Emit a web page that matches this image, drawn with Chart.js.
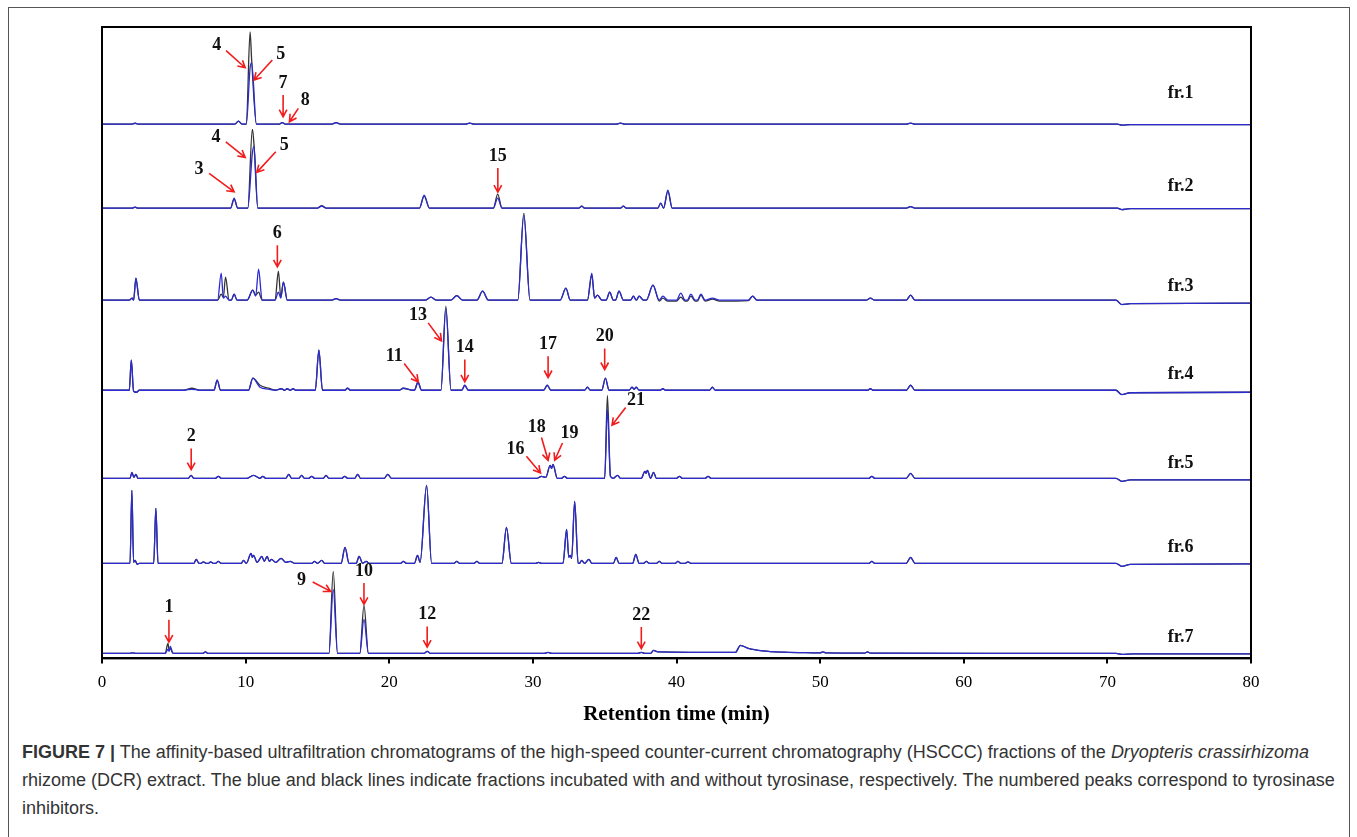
<!DOCTYPE html>
<html>
<head>
<meta charset="utf-8">
<script src="https://cdn.jsdelivr.net/npm/chart.js@4.4.0/dist/chart.umd.min.js"></script>
<style>
  html, body { margin: 0; padding: 0; background: #fff; overflow: hidden; }
  body { width: 1357px; height: 837px; position: relative; }
  #frame { position: absolute; left: 8px; top: 7px; width: 1342px; height: 900px; border: 1.5px solid #555; box-sizing: border-box; }
  #wrap { position: absolute; left: 0; top: 0; width: 1357px; height: 735px; }
  #caption { position: absolute; left: 22px; top: 738px; font-family: "Liberation Sans", Arial, sans-serif; font-size: 18px; line-height: 28px; color: #333; white-space: nowrap; }
</style>
</head>
<body>
<div id="frame"></div>
<div id="wrap"><canvas id="chromatograms"></canvas></div>
<div id="caption"><b>FIGURE 7 |</b> The affinity-based ultrafiltration chromatograms of the high-speed counter-current chromatography (HSCCC) fractions of the <i>Dryopteris crassirhizoma</i><br>rhizome (DCR) extract. The blue and black lines indicate fractions incubated with and without tyrosinase, respectively. The numbered peaks correspond to tyrosinase<br>inhibitors.</div>
<script>
// rows: [retention time (min), blue = with tyrosinase, black = without tyrosinase]
var fr1 = [
  [0,0,0],
  [2.1,0,0],[2.3,0.8,0.8],[2.5,0,0],
  [9.25,0,0],[9.5,3,3],[9.75,0,0],
  [10.05,0,0],[10.31,56,92],[10.42,61,64],[10.75,0,0],
  [12.35,0,0],[12.55,1.5,1.5],[12.75,0,0],
  [16.0,0,0],[16.3,1.5,1.5],[16.6,0,0],
  [25.3,0,0],[25.6,1,1],[25.9,0,0],
  [35.8,0,0],[36.1,1,1],[36.4,0,0],
  [56.0,0,0],[56.3,1,1],[56.6,0,0],
  [70.7,0,0],[71.0,-1,-1],[71.6,-0.5,-0.5],[80,-0.5,-0.5]
];
var fr2 = [
  [0,0,0],
  [2.1,0,0],[2.3,1,1],[2.5,0,0],
  [8.95,0,0],[9.2,10,9],[9.45,0,0],
  [10.15,0,0],[10.47,55,79],[10.58,62,64],[10.85,0,0],
  [15.0,0,0],[15.3,2,2.5],[15.6,0,0],
  [22.1,0,0],[22.43,13,12],[22.8,0,0],
  [27.25,0,0],[27.55,10,14],[27.85,0,0],
  [33.2,0,0],[33.4,2,2],[33.6,0,0],
  [36.1,0,0],[36.3,2,2],[36.5,0,0],
  [38.7,0,0],[38.9,5,5],[39.1,0,0],[39.4,18,17],[39.7,0,0],
  [56.0,0,0],[56.3,1.5,1.5],[56.6,0,0],
  [70.7,0,0],[71.0,-1.5,-1.5],[71.6,-0.5,-0.5],[80,-0.5,-0.5]
];
var fr3 = [
  [0,0,0],
  [1.9,0,0],[2.1,2,2],[2.2,0,0],[2.36,22,22],[2.6,0,0],
  [8.05,0,0],[8.3,27,6],[8.45,2,3],[8.6,4,23],[8.85,0,0],
  [9.0,0,0],[9.2,6,6],[9.4,0,0],
  [10.1,0,0],[10.5,10,10],[10.7,4,5],[10.9,31,8],[11.15,0,0],
  [12.05,0,0],[12.28,8,29],[12.45,2,3],[12.63,18,18],[12.9,0,0],
  [16.0,0,0],[16.3,1.5,1.5],[16.6,0,0],
  [22.5,0,0],[22.9,3,3],[23.3,0,0],
  [24.3,0,0],[24.7,4.5,4.5],[25.1,0,0],
  [26.1,0,0],[26.5,9,9],[26.9,0,0],
  [28.95,0,0],[29.37,85,87],[29.8,0,0],
  [31.9,0,0],[32.3,12,12],[32.6,0,0],
  [33.8,0,0],[34.1,27,25],[34.3,2,2],[34.5,5,5],[34.8,0,0],
  [35.1,0,0],[35.35,8,8],[35.6,0,0],
  [35.75,0,0],[36.0,9,9],[36.3,0,0],
  [36.8,0,0],[37.0,4,4],[37.2,0,0],[37.4,4,4],[37.7,0,0],
  [37.9,0,0],[38.36,15,15],[38.8,0,-1],
  [39.05,4,2],[39.4,0,-1],
  [40.0,0,-1],[40.3,7,3],[40.6,0,-1],
  [40.75,0,-1],[41.0,6,4],[41.3,0,-1],
  [41.45,0,-1],[41.7,6,5],[42.0,0,-1],
  [42.5,2,1],[43.0,0,-1],
  [45.0,0,-0.5],[45.3,4,4],[45.6,0,0],
  [53.2,0,0],[53.5,2,2],[53.8,0,0],
  [56.0,0,0],[56.3,5,5],[56.6,0,0],
  [70.6,0,0],[71.0,-4.5,-4.5],[71.6,-3.5,-3.5],[80,-3,-3]
];
var fr4 = [
  [0,0,0],
  [1.9,0,0],[2.04,30,30],[2.2,-1,-1],[2.4,-2,-2],[2.6,0,0],
  [5.7,0,0],[6.26,1,2],[6.8,0,0],
  [7.8,0,0],[8.02,10,10],[8.25,0,0],
  [10.2,0,0],[10.5,12,12],[11.0,3,5],[11.6,1,2],[12.1,0,0],
  [12.5,1.5,1.5],[12.7,0,0],[12.9,1.5,1.5],[13.1,0,0],[13.3,1.5,1.5],[13.5,0,0],
  [14.85,0,0],[15.1,40,40],[15.35,0,0],
  [16.9,0,0],[17.1,2,2],[17.3,0,0],
  [20.7,0,0],[20.97,2,2],[21.6,0,0],
  [21.75,0,0],[22.0,8,8],[22.25,0,0],
  [23.6,0,0],[23.94,82,84],[24.3,0,0],
  [25.05,0,0],[25.26,5,5],[25.5,0,0],
  [30.75,0,0],[31.0,5,5],[31.25,0,0],
  [33.6,0,0],[33.8,3,3],[34.0,0,0],
  [34.8,0,0],[35.05,12,12],[35.3,0,0],
  [36.7,0,0],[36.9,3,3],[37.05,1,1],[37.2,3,3],[37.4,0,0],
  [38.85,0,0],[39.05,1.5,1.5],[39.25,0,0],
  [42.3,0,0],[42.5,3,3],[42.7,0,0],
  [53.3,0,0],[53.5,1.5,1.5],[53.7,0,0],
  [56.0,0,0],[56.3,5,5],[56.6,0,0],
  [70.6,0,0],[71.0,-4.5,-4.5],[71.6,-2.5,-2.5],[80,-2,-2]
];
var fr5 = [
  [0,0,0],
  [1.95,0,0],[2.08,6,6],[2.22,1,1],[2.36,4,4],[2.5,0,0],
  [6.0,0,0],[6.2,3,3],[6.4,0,0],
  [7.9,0,0],[8.1,2,2],[8.3,0,0],
  [10.1,0,0],[10.55,3,3],[11.0,0,0],[11.2,2,2],[11.4,0,0],
  [12.8,0,0],[13.0,4,4],[13.2,0,0],
  [13.7,0,0],[13.9,3,3],[14.1,0,0],
  [14.4,0,0],[14.6,2,2],[14.8,0,0],
  [15.4,0,0],[15.6,3,3],[15.8,0,0],
  [16.7,0,0],[16.9,2,2],[17.1,0,0],
  [17.6,0,0],[17.8,4,4],[18.0,0,0],
  [19.65,0,0],[19.9,4,4],[20.15,0,0],
  [30.3,0,0],[30.6,2,2],[30.9,1,1],[31.2,13,13],[31.3,10,10],[31.4,14,14],[31.7,0,0],
  [32.0,0,0],[32.2,2,2],[32.4,0,0],
  [35.0,0,0],[35.19,69,83],[35.4,2,2],[35.6,0,0],[35.9,3,3],[36.1,0,0],
  [37.55,0,0],[37.8,7,7],[37.88,5,5],[37.97,8,8],[38.2,0,0],[38.4,6,6],[38.6,0,0],
  [40.0,0,0],[40.2,2,2],[40.4,0,0],
  [42.0,0,0],[42.2,2,2],[42.4,0,0],
  [53.4,0,0],[53.6,2,2],[53.8,0,0],
  [56.0,0,0],[56.3,5,5],[56.6,0,0],
  [70.6,0,0],[71.0,-3,-3],[71.6,-1.5,-1.5],[80,-1.5,-1.5]
];
var fr6 = [
  [0,0,0],
  [1.95,0,0],[2.08,73,73],[2.2,1,1],[2.3,3,3],[2.45,-1,-1],[2.6,0,0],
  [3.6,0,0],[3.75,55,55],[3.9,0,0],
  [6.4,0,0],[6.56,4,4],[6.75,0,0],
  [6.9,0,0],[7.05,1.5,1.5],[7.25,0,0],
  [7.4,0,0],[7.56,1.5,1.5],[7.75,0,0],
  [7.9,0,0],[8.1,2,2],[8.3,0,0],
  [9.7,0,0],[9.85,3,3],[10.05,0,0],[10.38,10,10],[10.47,6,6],[10.55,8,8],[10.8,1,1],[11.13,7,7],[11.3,2,2],[11.5,7,7],[11.65,2,2],[11.8,4,4],[12.1,1,1],[12.47,5,5],[12.8,1,1],[13.1,2,2],[13.4,0,0],
  [14.6,0,0],[14.8,2,2],[15.0,0,0],[15.3,3,3],[15.5,0,0],
  [16.65,0,0],[16.92,16,16],[17.2,0,0],
  [17.7,0,0],[17.9,7,7],[18.15,0,0],[18.4,2,2],[18.6,0,0],
  [20.8,0,0],[20.97,2,2],[21.2,0,0],
  [21.75,0,0],[21.97,8,8],[22.15,1,1],[22.6,78,78],[22.95,0,0],
  [24.5,0,0],[24.7,2,2],[24.9,0,0],
  [25.9,0,0],[26.1,2,2],[26.3,0,0],
  [27.85,0,0],[28.16,36,36],[28.5,0,0],
  [30.2,0,0],[30.4,1,1],[30.6,0,0],
  [32.1,0,0],[32.35,34,34],[32.5,6,6],[32.6,8,8],[32.7,5,5],[32.91,62,62],[33.15,0,0],
  [33.25,0,0],[33.4,3,3],[33.6,0,0],[33.9,4,4],[34.1,0,0],
  [35.6,0,0],[35.8,6,6],[36.0,0,0],
  [36.95,0,0],[37.16,9,9],[37.4,0,0],
  [37.7,0,0],[37.9,2,2],[38.1,0,0],
  [38.6,0,0],[38.8,2,2],[39.0,0,0],
  [39.9,0,0],[40.1,2,2],[40.3,0,0],
  [40.6,0,0],[40.8,1.5,1.5],[41.0,0,0],
  [53.4,0,0],[53.6,2,2],[53.8,0,0],
  [56.0,0,0],[56.3,6,6],[56.6,0,0],
  [70.6,0,0],[71.0,-3,-3],[71.6,-1,-1],[80,-0.5,-0.5]
];
var fr7 = [
  [0,0,0],
  [1.9,0,0],[2.1,0.5,0.5],[2.4,0,0],
  [4.4,0,0],[4.59,4,10],[4.68,2,3],[4.75,7,5],[4.95,0,0],
  [7.0,0,0],[7.2,1.5,1.5],[7.4,0,0],
  [15.8,0,0],[16.1,64,82],[16.4,0,0],
  [17.95,0,0],[18.24,34,48],[18.55,0,0],
  [22.4,0,0],[22.64,2,2],[22.9,0,0],
  [30.8,0,0],[31.06,1,1],[31.3,0,0],
  [37.3,0,0],[37.55,1,1],[37.8,0,0],
  [38.2,0,0],[38.4,3,3],[38.7,1.5,1.5],[44.1,1,1],[44.45,8,8],[45.0,5,5],[46.0,2.5,2.5],[47.5,1.2,1.2],[49.5,0.6,0.6],
  [50.0,0.5,0.5],[50.2,1.5,1.5],[50.4,0.5,0.5],
  [53.1,0.3,0.3],[53.3,1.5,1.5],[53.5,0.2,0.2],
  [70.6,0,0],[71.0,-1,-1],[71.8,-0.5,-0.5],[80,-0.5,-0.5]
];

var fractions = [fr1, fr2, fr3, fr4, fr5, fr6, fr7];
var fractionNames = ["fr.1", "fr.2", "fr.3", "fr.4", "fr.5", "fr.6", "fr.7"];
var timeTicks = [0, 10, 20, 30, 40, 50, 60, 70, 80];

// numbered peaks: fraction index, arrow tail and tip as [time, intensity]
var peakNumbers = ["4","5","7","8","4","5","3","15","6","11","13","14","17","20","21","18","19","16","2","1","9","10","12","22"];
var peakFraction = [0,0,0,0,1,1,1,1,2,3,3,3,3,3,4,4,4,4,4,6,6,6,6,6];
var arrowFrom = [[8.64,73.3],[11.86,64],[12.61,29],[13.67,15.7],[8.62,66.3],[12.10,56.3],[7.46,34.7],[27.56,40],[12.21,55],[21.04,26.7],[22.71,67.3],[25.26,30.7],[31.06,34],[35.0,41.7],[36.46,70.7],[30.6,40.7],[32.06,35.3],[29.55,22],[6.21,29.7],[4.66,33.7],[14.67,71.3],[18.24,70.3],[22.64,27],[37.55,26.3]];
var arrowTo = [[9.97,56.3],[10.59,44],[12.61,7.3],[13.05,2.3],[9.97,50.7],[10.78,35.7],[9.20,16.3],[27.56,16],[12.21,33.3],[22.02,8.3],[23.64,49.3],[25.26,8.3],[31.06,12.7],[35.0,20.7],[35.51,53],[31.06,18],[31.52,18],[30.53,5.3],[6.21,8.7],[4.66,11.3],[15.92,62],[18.24,49],[22.64,6.3],[37.55,4.7]];

var labelTime = 74.2;
var labelLift = [31, 22, 14, 16, 15, 16, 16];

// pane heights (px) of the stacked y axes, top to bottom
var paneHeight = [102, 84, 92, 90, 88, 85, 90];

var serif = '"Liberation Serif", "Times New Roman", serif';
var blue = "#2b2bd0";
var black = "#333333";

Chart.defaults.font.family = serif;
Chart.defaults.font.size = 17;
Chart.defaults.color = "#000";

var datasets = [];
var scales = {
    x: {
        type: "linear",
        min: 0,
        max: 80,
        afterBuildTicks: function (axis) {
            axis.ticks = timeTicks.map(function (v) { return { value: v }; });
        },
        ticks: { color: "#000", font: { family: serif, size: 17 }, padding: 9, maxRotation: 0 },
        grid: { display: true, drawOnChartArea: false, drawTicks: true, tickLength: 5, lineWidth: 2, color: "#000" },
        border: { display: true, color: "#000", width: 2 },
        title: { display: true, text: "Retention time (min)", color: "#000", font: { family: serif, size: 21, weight: "bold" }, padding: { top: 0, bottom: 4 } }
    }
};

fractions.forEach(function (fr, i) {
    var id = "y" + (i + 1);
    scales[id] = {
        type: "linear",
        position: "left",
        stack: "fractions",
        stackWeight: paneHeight[i],
        weight: 10 - i,
        min: -5,
        max: paneHeight[i] - 5,
        display: false
    };
    datasets.push({
        label: fractionNames[i] + " with tyrosinase",
        data: fr.map(function (r) { return { x: r[0], y: r[1] }; }),
        yAxisID: id,
        borderColor: blue,
        borderWidth: 1.3,
        order: 0
    });
    datasets.push({
        label: fractionNames[i] + " without tyrosinase",
        data: fr.map(function (r) { return { x: r[0], y: r[2] }; }),
        yAxisID: id,
        borderColor: black,
        borderWidth: 1.3,
        order: 1
    });
});

const decor = {
    id: "decor",
    afterDatasetsDraw: function (chart) {
        var ctx = chart.ctx, a = chart.chartArea, xs = chart.scales.x;
        ctx.save();
        ctx.strokeStyle = "#000";
        ctx.lineWidth = 2;
        ctx.strokeRect(a.left, a.top, a.right - a.left, a.bottom - a.top);

        ctx.fillStyle = "#111";
        ctx.font = "bold 18px " + serif;
        ctx.textAlign = "left";
        ctx.textBaseline = "middle";
        fractionNames.forEach(function (n, i) {
            var ys = chart.scales["y" + (i + 1)];
            ctx.fillText(n, xs.getPixelForValue(labelTime), ys.getPixelForValue(labelLift[i]));
        });

        ctx.strokeStyle = "#f21c1c";
        ctx.lineWidth = 1.6;
        ctx.textAlign = "center";
        peakNumbers.forEach(function (txt, k) {
            var ys = chart.scales["y" + (peakFraction[k] + 1)];
            var x0 = xs.getPixelForValue(arrowFrom[k][0]), y0 = ys.getPixelForValue(arrowFrom[k][1]);
            var x1 = xs.getPixelForValue(arrowTo[k][0]), y1 = ys.getPixelForValue(arrowTo[k][1]);
            var len = Math.hypot(x1 - x0, y1 - y0), dx = (x1 - x0) / len, dy = (y1 - y0) / len;
            ctx.beginPath();
            ctx.moveTo(x0, y0);
            ctx.lineTo(x1, y1);
            var ang = Math.atan2(dy, dx), h = 8;
            ctx.moveTo(x1 - h * Math.cos(ang - 0.5), y1 - h * Math.sin(ang - 0.5));
            ctx.lineTo(x1, y1);
            ctx.lineTo(x1 - h * Math.cos(ang + 0.5), y1 - h * Math.sin(ang + 0.5));
            ctx.stroke();
            var w = ctx.measureText(txt).width;
            var lx = x0 - dx * 8 - dx * w / 2;
            var ly = y0 - dy * 8 - dy * 4 + Math.abs(dx) * 4;
            ctx.fillStyle = "#111";
            ctx.fillText(txt, lx, ly);
        });
        ctx.restore();
    }
};

new Chart(document.getElementById("chromatograms"), {
    type: "line",
    data: { datasets: datasets },
    options: {
        responsive: true,
        maintainAspectRatio: false,
        animation: false,
        layout: { padding: { left: 102, right: 106, top: 27, bottom: 4 } },
        elements: {
            point: { radius: 0 },
            line: { cubicInterpolationMode: "monotone", fill: false }
        },
        plugins: {
            legend: { display: false },
            tooltip: { enabled: false }
        },
        scales: scales
    },
    plugins: [decor]
});
</script>
</body>
</html>
